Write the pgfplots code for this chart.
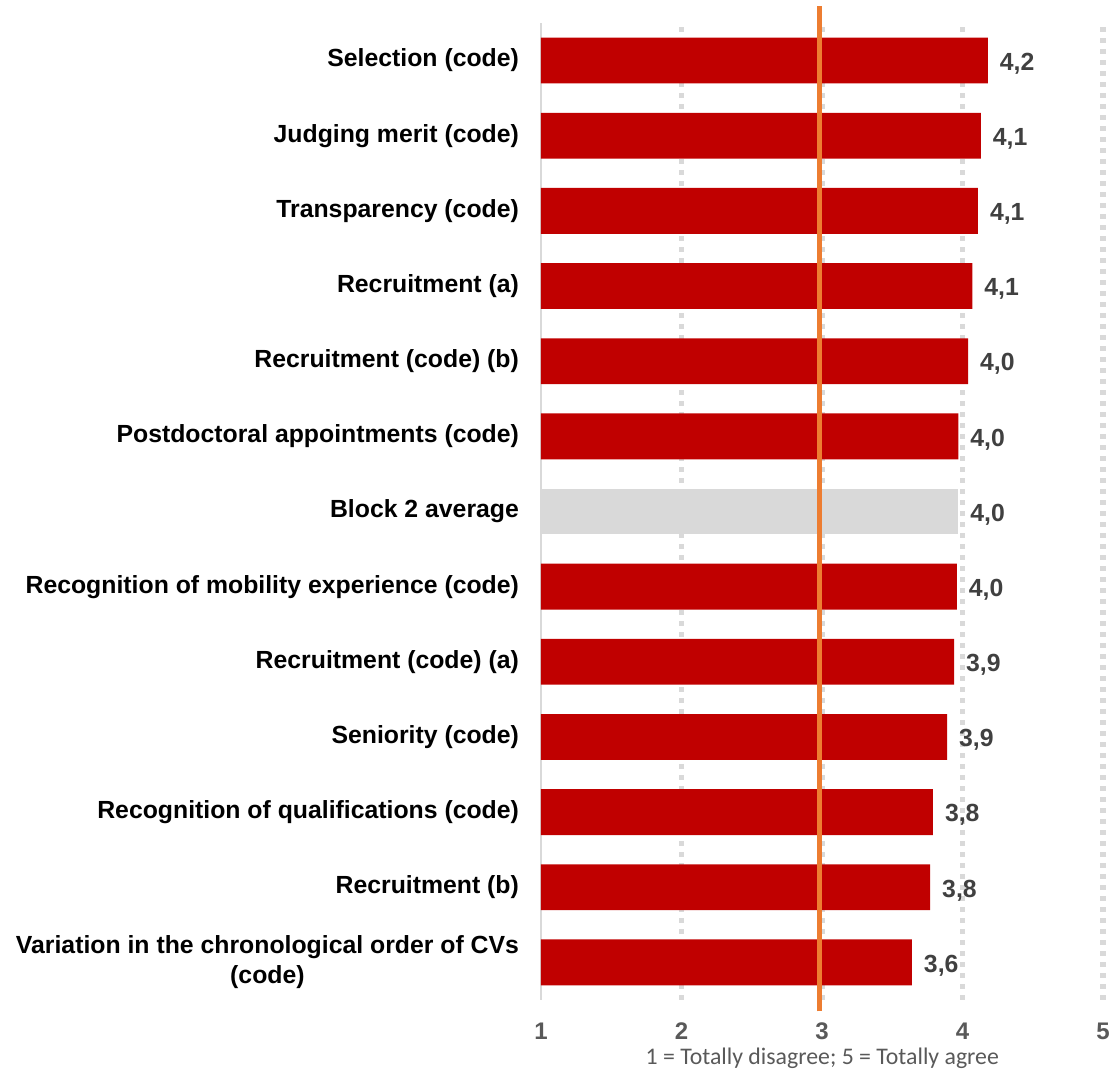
\documentclass[border=0pt]{standalone}
\usepackage{pgfplots}
\pgfplotsset{compat=1.18}
\usepackage{fontspec}
\setmainfont{Liberation Sans}
\newfontfamily\calibri{Carlito}
\definecolor{barred}{HTML}{C00000}
\definecolor{bargrey}{HTML}{D9D9D9}
\definecolor{gridgrey}{HTML}{D9D9D9}
\definecolor{lineorange}{HTML}{ED7D31}
\definecolor{tickgrey}{HTML}{595959}
\definecolor{valgrey}{HTML}{404040}
\begin{document}
\begin{tikzpicture}
\begin{axis}[
  scale only axis, width=281pt, height=488.5pt,
  xmin=1, xmax=5, ymin=-0.5, ymax=12.5,
  clip=false,
  xbar, bar width=0.61, bar shift=0pt,
  axis line style={draw=none},
  major tick length=0pt,
  xtick={2,3,4,5},
  extra x ticks={1},
  extra x tick style={major x grid style={draw=gridgrey, line width=0.8pt, solid}},
  xmajorgrids,
  major x grid style={draw=gridgrey, line width=2.8pt, dash pattern=on 2.6pt off 2.9pt},
  ytick={0,...,12},
  yticklabels={{Variation in the chronological order of CVs\\(code)},
    {Recruitment (b)},
    {Recognition of qualifications (code)},
    {Seniority (code)},
    {Recruitment (code) (a)},
    {Recognition of mobility experience (code)},
    {Block 2 average},
    {Postdoctoral appointments (code)},
    {Recruitment (code) (b)},
    {Recruitment (a)},
    {Transparency (code)},
    {Judging merit (code)},
    {Selection (code)}},
  yticklabel style={align=center, font=\fontsize{12.4}{15}\selectfont\bfseries, text=black, xshift=-7.5pt},
  xticklabel style={font=\fontsize{12}{14}\selectfont\bfseries, text=tickgrey, yshift=-8pt},
  /pgf/number format/assume math mode=true,
  point meta=x,
  nodes near coords={\pgfmathprintnumber[fixed, zerofill, precision=1, use comma]{\pgfplotspointmeta}},
  every node near coord/.append style={anchor=west, font=\fontsize{12.4}{15}\selectfont\bfseries, text=valgrey, xshift=2.5pt, yshift=-1.5pt},
  xlabel={1 = Totally disagree; 5 = Totally agree},
  xlabel style={font=\calibri\fontsize{11.9}{14}\selectfont, text=tickgrey, at={(axis description cs:1,0)}, anchor=east, xshift=-48.5pt, yshift=-29pt},
]
\addplot[fill=barred, draw=none] coordinates {(3.64,0) (3.77,1) (3.79,2) (3.89,3) (3.94,4) (3.96,5) (3.97,7) (4.04,8) (4.07,9) (4.11,10) (4.13,11) (4.18,12)};
\addplot[fill=bargrey, draw=none] coordinates {(3.97,6)};
\draw[draw=lineorange, line width=2.5pt] (axis cs:2.98,-0.65) -- (axis cs:2.98,12.72);
\end{axis}
\pgfresetboundingbox
\path[use as bounding box] ([xshift=-270.5pt,yshift=-35.5pt]current axis.south west) rectangle ([xshift=6pt,yshift=11.5pt]current axis.north east);
\end{tikzpicture}
\end{document}
